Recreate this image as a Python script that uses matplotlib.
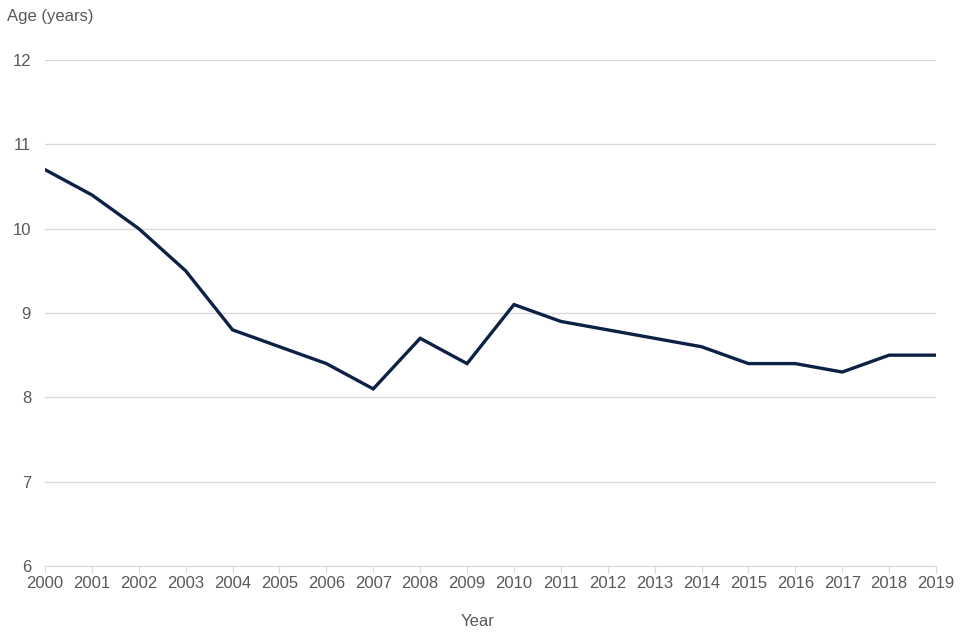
import matplotlib
matplotlib.use('Agg')
import matplotlib.pyplot as plt

plt.rcParams['font.family'] = ['Liberation Sans', 'DejaVu Sans']

years = list(range(2000, 2020))
age = [10.7, 10.4, 10.0, 9.5, 8.8, 8.6, 8.4, 8.1, 8.7, 8.4,
       9.1, 8.9, 8.8, 8.7, 8.6, 8.4, 8.4, 8.3, 8.5, 8.5]

fig = plt.figure(figsize=(9.6, 6.4), dpi=100)
ax = fig.add_axes([45/960, 1 - 566/640, (936-45)/960, (566-60)/640])

ax.plot(years, age, color='#0c2145', linewidth=2.4, solid_joinstyle='miter')

ax.set_xlim(2000, 2019)
ax.set_ylim(6, 12)
ax.set_xticks(years)
ax.set_yticks(range(6, 13))
ax.grid(axis='y', color='#d9d9d9', linewidth=1)
ax.set_axisbelow(True)

for s in ['top', 'right', 'left']:
    ax.spines[s].set_visible(False)
ax.spines['bottom'].set_color('#d9d9d9')
ax.tick_params(axis='x', length=5, color='#d9d9d9', labelsize=12, labelcolor='#595959', pad=2)
ax.tick_params(axis='y', length=0, labelsize=12, labelcolor='#595959', pad=10)

fig.text(7/960, 1 - 17/640, 'Age (years)', fontsize=12, color='#595959', va='center', ha='left')
fig.text(478/960, 1 - 622/640, 'Year', fontsize=12, color='#595959', va='center', ha='center')

fig.savefig('out.png', dpi=100)
